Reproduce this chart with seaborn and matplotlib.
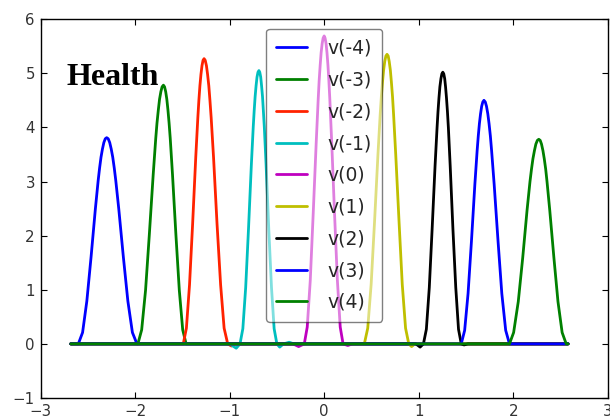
import matplotlib
matplotlib.use("Agg")
import matplotlib.pyplot as plt
import seaborn as sns

# Sampled curves v(k), each as (x, y) points; the flat zero stretch spans the whole grid
X_START, X_END = -2.68, 2.58

vm4_x = [-2.60, -2.555, -2.51, -2.465, -2.42, -2.39, -2.375, -2.36, -2.345, -2.33, -2.315, -2.30,
         -2.284, -2.268, -2.252, -2.236, -2.22, -2.204, -2.172, -2.124, -2.076, -2.028, -1.98]
vm4_y = [0.0, 0.21, 0.79, 1.61, 2.49, 3.02, 3.25, 3.45, 3.60, 3.72, 3.79, 3.81,
         3.79, 3.72, 3.60, 3.45, 3.25, 3.02, 2.49, 1.61, 0.79, 0.21, 0.0]

vm3_x = [-1.97, -1.93, -1.889, -1.849, -1.808, -1.781, -1.768, -1.754, -1.741, -1.727, -1.714, -1.70,
         -1.688, -1.676, -1.664, -1.652, -1.64, -1.628, -1.604, -1.568, -1.532, -1.496, -1.46]
vm3_y = [0.0, 0.26, 0.99, 2.02, 3.13, 3.80, 4.08, 4.32, 4.52, 4.66, 4.75, 4.78,
         4.75, 4.66, 4.52, 4.32, 4.08, 3.80, 3.13, 2.02, 0.99, 0.26, 0.0]

vm2_x = [-1.49, -1.457, -1.424, -1.391, -1.358, -1.336, -1.325, -1.314, -1.303, -1.292, -1.281, -1.27,
         -1.258, -1.245, -1.233, -1.22, -1.208, -1.195, -1.17, -1.133, -1.095, -1.058, -1.02,
         -0.98, -0.95]
vm2_y = [0.0, 0.29, 1.09, 2.22, 3.45, 4.18, 4.50, 4.77, 4.98, 5.14, 5.24, 5.27,
         5.24, 5.14, 4.98, 4.77, 4.50, 4.18, 3.45, 2.22, 1.09, 0.29, 0.0,
         -0.04, 0.0]

vm1_x = [-1.00, -0.93, -0.89, -0.86, -0.83, -0.80, -0.77, -0.75, -0.74, -0.73, -0.72, -0.71, -0.70, -0.69,
         -0.681, -0.671, -0.662, -0.652, -0.643, -0.633, -0.614, -0.586, -0.557, -0.529, -0.50,
         -0.47, -0.43, -0.37, -0.32]
vm1_y = [0.0, -0.08, 0.0, 0.28, 1.04, 2.13, 3.31, 4.01, 4.31, 4.57, 4.77, 4.93, 5.02, 5.05,
         5.02, 4.93, 4.77, 4.57, 4.31, 4.01, 3.31, 2.13, 1.04, 0.28, 0.0,
         -0.06, 0.0, 0.03, 0.0]

v0_x = [-0.33, -0.27, -0.21, -0.179, -0.147, -0.116, -0.084, -0.063, -0.053, -0.042, -0.032, -0.021,
        -0.011, 0.0, 0.01, 0.02, 0.03, 0.04, 0.05, 0.06, 0.08, 0.11, 0.14, 0.17, 0.20, 0.25, 0.30]
v0_y = [0.0, -0.05, 0.0, 0.31, 1.17, 2.40, 3.72, 4.52, 4.86, 5.15, 5.38, 5.55,
        5.65, 5.69, 5.65, 5.55, 5.38, 5.15, 4.86, 4.52, 3.72, 2.40, 1.17, 0.31, 0.0, -0.03, 0.0]

v1_x = [0.425, 0.461, 0.497, 0.533, 0.569, 0.593, 0.605, 0.617, 0.629, 0.641, 0.653, 0.665,
        0.677, 0.688, 0.70, 0.711, 0.723, 0.734, 0.757, 0.792, 0.826, 0.861, 0.895, 0.925, 0.96]
v1_y = [0.0, 0.29, 1.10, 2.26, 3.50, 4.25, 4.57, 4.84, 5.06, 5.22, 5.32, 5.35,
        5.32, 5.22, 5.06, 4.84, 4.57, 4.25, 3.50, 2.26, 1.10, 0.29, 0.0, -0.05, 0.0]

v2_x = [0.97, 1.015, 1.05, 1.081, 1.112, 1.142, 1.173, 1.194, 1.204, 1.214, 1.224, 1.235, 1.245, 1.255,
        1.265, 1.275, 1.284, 1.294, 1.304, 1.314, 1.333, 1.362, 1.392, 1.421, 1.45, 1.48, 1.52]
v2_y = [0.0, -0.06, 0.0, 0.27, 1.04, 2.12, 3.29, 3.99, 4.29, 4.54, 4.75, 4.90, 4.99, 5.02,
        4.99, 4.90, 4.75, 4.54, 4.29, 3.99, 3.29, 2.12, 1.04, 0.27, 0.0, -0.02, 0.0]

v3_x = [1.45, 1.486, 1.522, 1.558, 1.594, 1.618, 1.63, 1.642, 1.654, 1.666, 1.678, 1.69,
        1.704, 1.717, 1.731, 1.744, 1.758, 1.771, 1.798, 1.839, 1.879, 1.92, 1.96]
v3_y = [0.0, 0.25, 0.93, 1.90, 2.95, 3.57, 3.84, 4.07, 4.25, 4.39, 4.47, 4.50,
        4.47, 4.39, 4.25, 4.07, 3.84, 3.57, 2.95, 1.90, 0.93, 0.25, 0.0]

v4_x = [1.96, 2.004, 2.053, 2.10, 2.146, 2.177, 2.193, 2.208, 2.224, 2.239, 2.255, 2.27,
        2.285, 2.299, 2.314, 2.328, 2.343, 2.357, 2.386, 2.43, 2.473, 2.517, 2.56]
v4_y = [0.0, 0.21, 0.78, 1.59, 2.47, 3.00, 3.23, 3.42, 3.57, 3.69, 3.76, 3.78,
        3.76, 3.69, 3.57, 3.42, 3.23, 3.00, 2.47, 1.59, 0.78, 0.21, 0.0]

labels = ["v(-4)", "v(-3)", "v(-2)", "v(-1)", "v(0)", "v(1)", "v(2)", "v(3)", "v(4)"]
curves_x = [vm4_x, vm3_x, vm2_x, vm1_x, v0_x, v1_x, v2_x, v3_x, v4_x]
curves_y = [vm4_y, vm3_y, vm2_y, vm1_y, v0_y, v1_y, v2_y, v3_y, v4_y]
colors = ["#0000ff", "#008000", "#ff2200", "#00bfbf", "#bf00bf",
          "#bfbf00", "#000000", "#0000ff", "#008000"]

sns.set_theme(style="white")
plt.rcParams["font.family"] = ["DejaVu Sans"]
plt.rcParams.update({
    "axes.edgecolor": "black",
    "axes.linewidth": 1.0,
    "xtick.direction": "in",
    "ytick.direction": "in",
    "xtick.top": True,
    "ytick.right": True,
    "xtick.bottom": True,
    "ytick.left": True,
    "xtick.major.size": 4,
    "ytick.major.size": 4,
    "xtick.major.width": 0.8,
    "ytick.major.width": 0.8,
    "xtick.color": "black",
    "ytick.color": "black",
    "xtick.labelcolor": "#333333",
    "ytick.labelcolor": "#333333",
})

fig = plt.figure(figsize=(6.1, 4.2), dpi=100)
ax = fig.add_axes([0.0664, 0.0524, 0.930, 0.902])

for xs, ys, col, lab in zip(curves_x, curves_y, colors, labels):
    px = [X_START] + xs + [X_END]
    py = [0.0] + ys + [0.0]
    sns.lineplot(x=px, y=py, color=col, linewidth=2.0, label=lab,
                 estimator=None, sort=False, ax=ax)

ax.set_xlim(-3, 3)
ax.set_ylim(-1, 6)
ax.set_xticks([-3, -2, -1, 0, 1, 2, 3])
ax.set_yticks([-1, 0, 1, 2, 3, 4, 5, 6])
ax.tick_params(labelsize=10.8, pad=4)
for s in ax.spines.values():
    s.set_visible(True)
    s.set_color("black")

leg = ax.legend(loc="upper center", fontsize=13.5, framealpha=0.5,
                edgecolor="black", fancybox=True, handlelength=1.65,
                handletextpad=1.1, borderpad=0.55, labelspacing=0.68,
                borderaxespad=0.5)
leg.get_frame().set_linewidth(1.0)

ax.text(0.045, 0.826, "Health", transform=ax.transAxes, va="baseline",
        ha="left", fontsize=23, fontweight="bold",
        family=["Liberation Serif", "DejaVu Serif"], color="black", zorder=10)

fig.savefig("out.png", dpi=100)
